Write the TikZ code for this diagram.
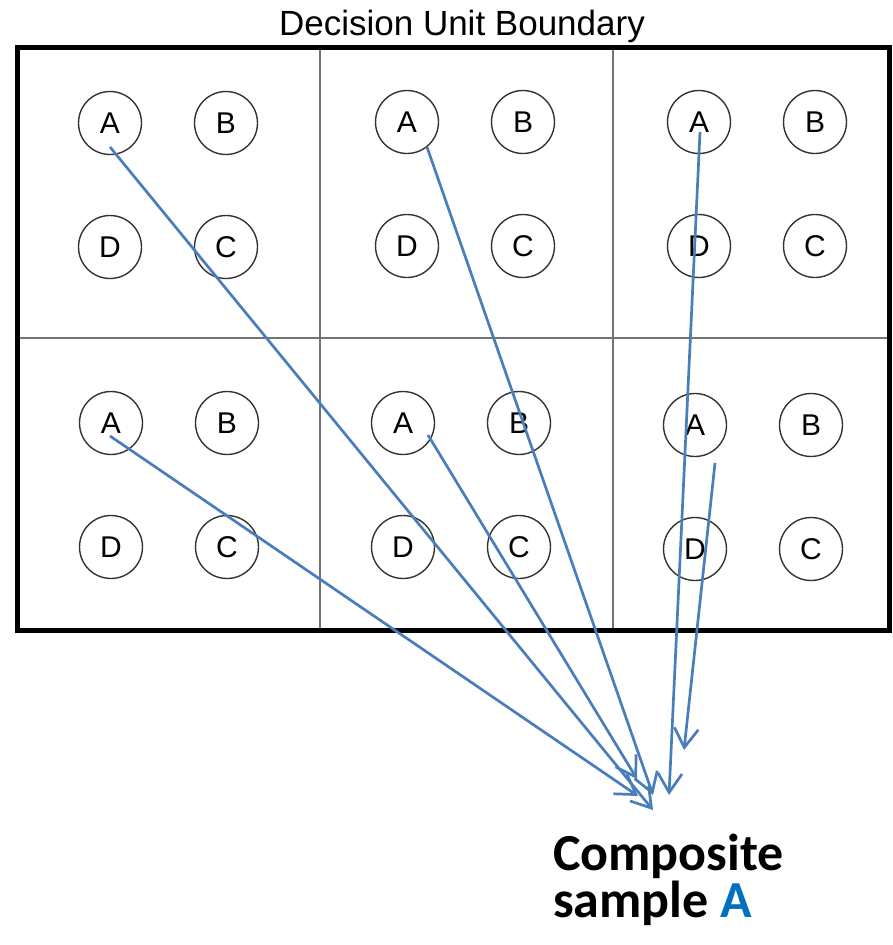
\documentclass[tikz,border=0pt]{standalone}
\usepackage{fontspec}
\setmainfont{Liberation Sans}
\newfontfamily\calibfont{Carlito}
\usetikzlibrary{arrows.meta,calc}
\definecolor{arrowblue}{RGB}{74,126,187}
\definecolor{sampleblue}{RGB}{0,112,192}
\begin{document}
\begin{tikzpicture}[x=1pt,y=-1pt,
  samp/.style={circle,draw=black!80,line width=1.4pt,minimum size=63pt,inner sep=0pt,font=\fontsize{30}{30}\selectfont},
  link/.style={draw=arrowblue,line width=2.7pt,-{Straight Barb[length=19pt,width=24pt]}},
  divider/.style={draw=black!55,line width=1.5pt},
  boundary/.style={draw=black,line width=5pt}]
\useasboundingbox (0,0) rectangle (892,945);
\fill[white] (0,0) rectangle (892,945);
% title
\node[font=\fontsize{35}{35}\selectfont,anchor=base,inner sep=0pt] (title) at (462,35) {Decision Unit Boundary};
% grid
\draw[divider] (320,47) -- (320,630);
\draw[divider] (613,47) -- (613,630);
\draw[divider] (17,338) -- (889,338);
\draw[boundary] (17,47) rectangle (889,630);
% circles
\foreach \cell/\x/\y in {tl/110/123, tm/407/122, tr/699/122, bl/111/423, bm/403/423, br/695/425}{
  \node[samp] (\cell A) at (\x,\y) {A};
  \node[samp] (\cell B) at (\x+116,\y) {B};
  \node[samp] (\cell D) at (\x,\y+124) {D};
  \node[samp] (\cell C) at (\x+116,\y+124) {C};
}
% arrow ends
\coordinate (s1) at ($(tlA)+(0,24)$);
\coordinate (s2) at ($(blA)+(-1,13)$);
\coordinate (s3) at ($(bmA)+(25,12)$);
\coordinate (s4) at ($(tmA)+(20,25)$);
\coordinate (s5) at ($(trA)+(1,10)$);
\coordinate (s6) at ($(brA)+(20,38)$);
\coordinate (t1) at (653,810);
\coordinate (t2) at (638,796);
\coordinate (t3) at (637,779);
\coordinate (t4) at (653,795);
\coordinate (t5) at (669,795);
\coordinate (t6) at (684,750);
\foreach \i in {1,...,6}{\draw[link] (s\i) -- (t\i);}
% caption
\node[anchor=base west,inner sep=0pt,align=left,font=\calibfont\bfseries\fontsize{52}{47}\selectfont] (comp) at (553,917) {Composite\\sample \textcolor{sampleblue}{A}};
\end{tikzpicture}
\end{document}
